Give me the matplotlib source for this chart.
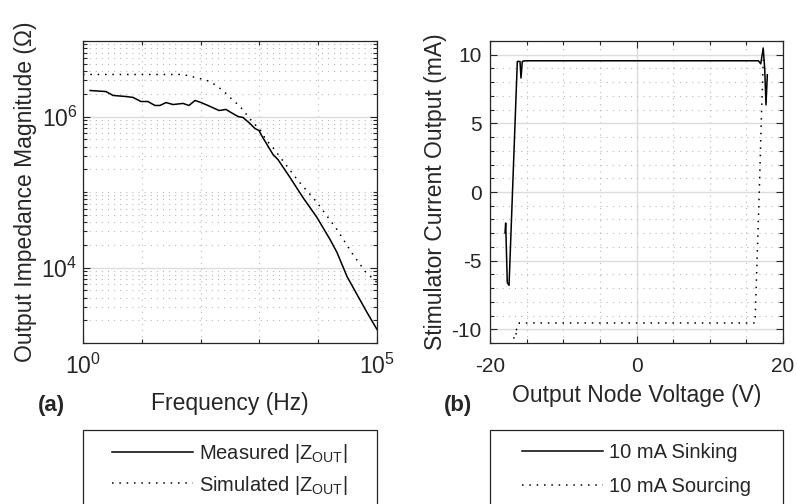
import matplotlib
matplotlib.use("Agg")
import matplotlib.pyplot as plt
from matplotlib.ticker import FixedLocator, LogLocator, MultipleLocator, NullFormatter
from matplotlib.patches import Rectangle

# (a) output impedance vs frequency
meas_f = [1.32, 2.46, 3.24, 5.38, 7.08, 9.68, 12.7, 16.7, 20.4, 25.8, 34.0, 50.2,
          63.5, 80.4, 102, 145, 206, 270, 329, 433, 526, 692, 841, 984, 1064,
          1346, 1702, 2070, 3311, 5508, 9550, 15890, 20890, 30900, 45710, 67610, 100000]
meas_z = [2.21e6, 2.14e6, 1.90e6, 1.84e6, 1.79e6, 1.58e6, 1.58e6, 1.40e6, 1.40e6,
          1.53e6, 1.44e6, 1.49e6, 1.40e6, 1.63e6, 1.53e6, 1.36e6, 1.20e6, 1.24e6,
          1.13e6, 1.00e6, 9.70e5, 8.07e5, 6.93e5, 6.53e5, 5.78e5, 4.26e5, 3.14e5,
          2.69e5, 1.56e5, 8.45e4, 4.59e4, 2.35e4, 1.58e4, 7.60e3, 4.39e3, 2.54e3, 1.51e3]
sim_f = [1, 50.1, 97.7, 145, 182, 240, 331, 468, 776, 1023, 1288, 1698, 2239,
         4365, 9550, 20890, 38900, 63100, 100000]
sim_z = [3.60e6, 3.60e6, 3.18e6, 2.91e6, 2.58e6, 2.21e6, 1.73e6, 1.36e6, 8.34e5,
         6.73e5, 4.95e5, 3.88e5, 2.91e5, 1.47e5, 7.26e4, 3.18e4, 1.49e4, 8.85e3, 6.32e3]

# (b) current vs output node voltage
sink_v = [-17.95, -17.86, -17.64, -17.4, -16.27, -15.9, -15.77, -15.59, -15.2,
          16.64, 16.96, 17.3, 17.5, 17.68, 17.86]
sink_i = [-2.99, -2.26, -6.6, -6.8, 9.51, 9.51, 8.3, 9.51, 9.56,
          9.56, 9.34, 10.49, 9.0, 6.35, 8.54]
src_v = [-16.68, -16.82, -16.27, -16.82, -16.22, -16.0, 16.18, 16.77, 17.04, 17.31]
src_i = [-10.68, -10.56, -10.39, -10.2, -9.95, -9.54, -9.54, 0.15, 5.26, 9.63]

txt = "#262626"
plt.rcParams["font.family"] = "Liberation Sans"
plt.rcParams["mathtext.fontset"] = "custom"
plt.rcParams["mathtext.rm"] = "Liberation Sans"
plt.rcParams["mathtext.it"] = "Liberation Sans:italic"
plt.rcParams["mathtext.bf"] = "Liberation Sans:bold"
plt.rcParams["axes.unicode_minus"] = False
plt.rcParams["text.color"] = txt
plt.rcParams["axes.labelcolor"] = txt
plt.rcParams["xtick.color"] = txt
plt.rcParams["ytick.color"] = txt

W, H = 797, 504
fig = plt.figure(figsize=(W / 100, H / 100), dpi=100)
ax1 = fig.add_axes([83 / W, 1 - 343 / H, 294 / W, 302 / H])
ax2 = fig.add_axes([490 / W, 1 - 343 / H, 293 / W, 302 / H])

dots = (0, (1, 3.8))


def style(ax):
    for s in ax.spines.values():
        s.set_color(txt)
        s.set_linewidth(0.9)
    ax.tick_params(which="both", direction="in", top=True, right=True, width=0.8)
    ax.tick_params(which="major", length=5, labelsize=15)
    ax.tick_params(which="minor", length=3)
    ax.grid(which="major", color="#dcdcdc", linestyle="-", linewidth=1)
    ax.grid(which="minor", color="#b8b8b8", linestyle=(0, (1, 4.5)), linewidth=0.8)
    ax.set_axisbelow(True)


ax1.loglog(meas_f, meas_z, color="black", lw=1.1, label=r"Measured |Z$_{\mathrm{OUT}}$|")
ax1.loglog(sim_f, sim_z, color="black", lw=1.1, linestyle=dots,
           label=r"Simulated |Z$_{\mathrm{OUT}}$|")
ax1.set_xlim(1, 1e5)
ax1.set_ylim(1e3, 1e7)
ax1.xaxis.set_major_locator(FixedLocator([1, 1e5]))
ax1.xaxis.set_minor_locator(FixedLocator([10, 100, 1e3, 1e4]))
ax1.xaxis.set_minor_formatter(NullFormatter())
ax1.yaxis.set_major_locator(FixedLocator([1e4, 1e6]))
ax1.yaxis.set_minor_locator(LogLocator(base=10, subs=range(1, 10), numticks=20))
ax1.yaxis.set_minor_formatter(NullFormatter())
style(ax1)
ax1.tick_params(which="major", labelsize=16.5)
ax1.tick_params(axis="x", pad=8)
ax1.tick_params(axis="y", pad=4)
ax1.set_xlabel("Frequency (Hz)", fontsize=16.5, labelpad=9)
ax1.set_ylabel("Output Impedance Magnitude (Ω)", fontsize=16.5, labelpad=3)

ax2.plot(sink_v, sink_i, color="black", lw=1.1, label="10 mA Sinking")
ax2.plot(src_v, src_i, color="black", lw=1.1, linestyle=dots, label="10 mA Sourcing")
ax2.set_xlim(-20, 20)
ax2.set_ylim(-11, 11)
ax2.xaxis.set_major_locator(FixedLocator([-20, 0, 20]))
ax2.xaxis.set_minor_locator(MultipleLocator(5))
ax2.yaxis.set_major_locator(MultipleLocator(5))
ax2.yaxis.set_minor_locator(MultipleLocator(1))
style(ax2)
ax2.tick_params(axis="x", pad=10)
ax2.tick_params(axis="y", pad=6)
ax2.set_xlabel("Output Node Voltage (V)", fontsize=16.5, labelpad=6)
ax2.set_ylabel("Stimulator Current Output (mA)", fontsize=16.5, labelpad=3)

fig.text(51 / W, 1 - 405 / H, "(a)", fontsize=16, fontweight="bold", ha="center", va="center")
fig.text(458 / W, 1 - 405 / H, "(b)", fontsize=16, fontweight="bold", ha="center", va="center")

# legend boxes run past the bottom edge
for x0, w, ax, top, gap in [(83, 294, ax1, 432, 0.42), (490, 293, ax2, 433, 0.72)]:
    fig.add_artist(Rectangle((x0 / W, -0.1), w / W, 0.1 + 1 - 430 / H,
                             transform=fig.transFigure, fill=False,
                             edgecolor=txt, linewidth=0.9, clip_on=False))
    ax.legend(loc="upper center", bbox_to_anchor=((x0 + w / 2) / W, 1 - top / H),
              bbox_transform=fig.transFigure, frameon=False, fontsize=14.5,
              handlelength=4.0, handletextpad=0.3, labelspacing=gap, borderpad=0)

fig.savefig("out.png", dpi=100)
